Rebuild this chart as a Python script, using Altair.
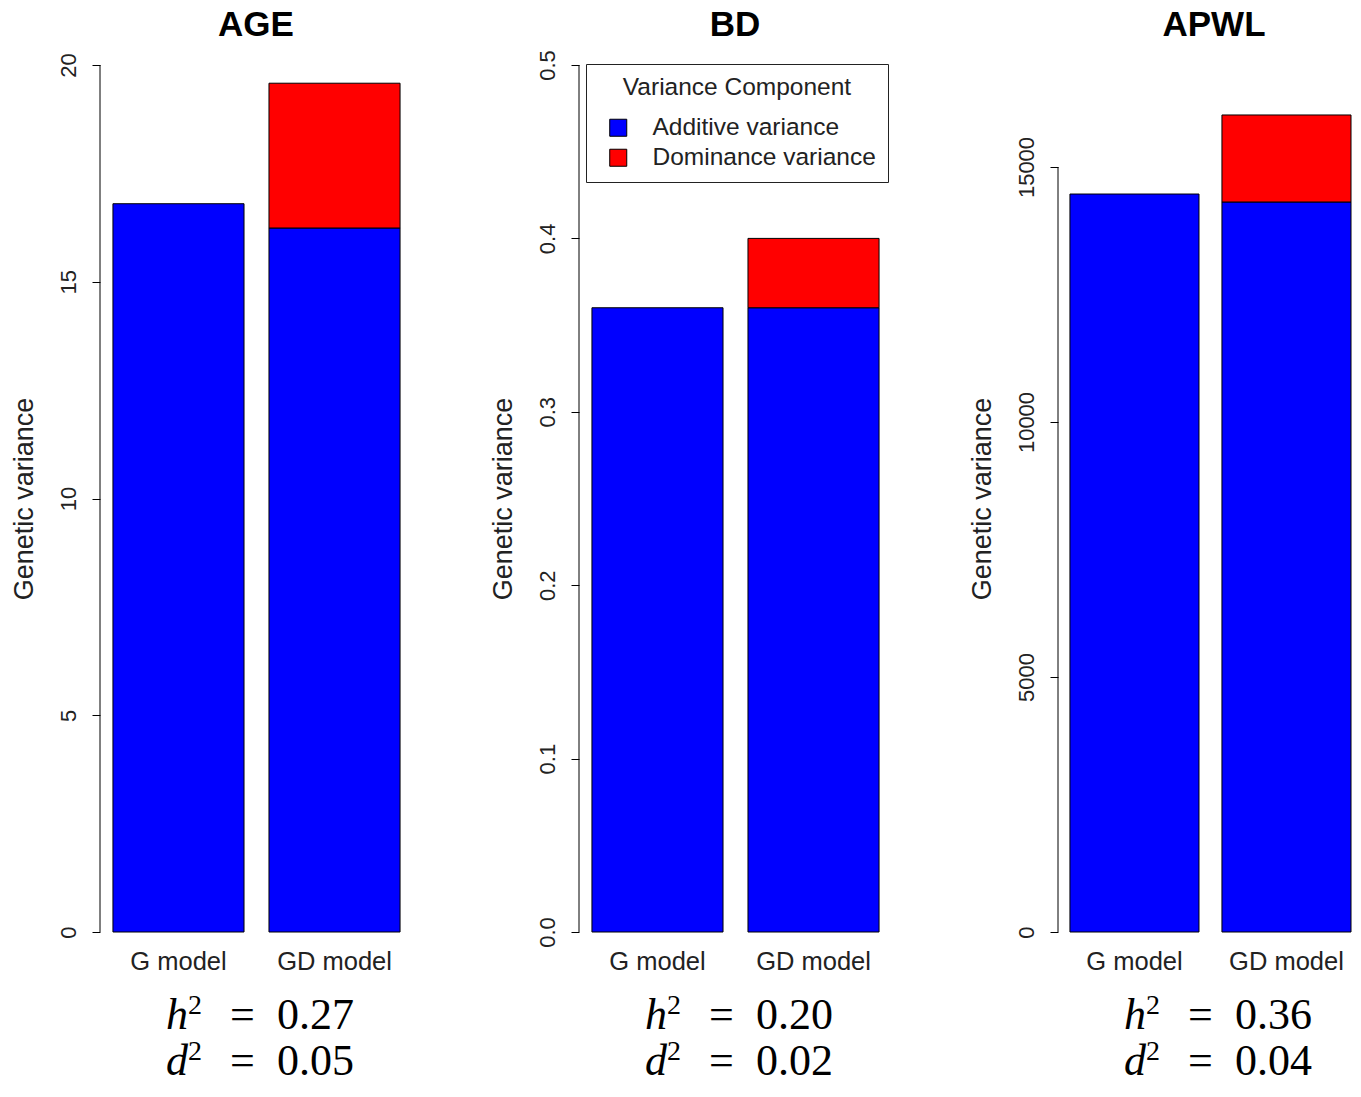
import altair as alt
import pandas as pd

traits = ["AGE", "BD", "APWL"]
models = ["G model", "GD model"]
components = ["Additive variance", "Dominance variance"]
comp_colors = ["#0000FF", "#FF0000"]

additive_vals = {"AGE": [16.8, 16.24], "BD": [0.360, 0.360], "APWL": [14470, 14314]}
dominance_vals = {"AGE": [None, 3.34], "BD": [None, 0.040], "APWL": [None, 1706]}

tick_vals = {
    "AGE": [0, 5, 10, 15, 20],
    "BD": [0.0, 0.1, 0.2, 0.3, 0.4, 0.5],
    "APWL": [0, 5000, 10000, 15000],
}
tick_fmt = {"AGE": "d", "BD": ".1f", "APWL": "d"}
y_max = {"AGE": 20, "BD": 0.5, "APWL": 17000}

h2_vals = ["0.27", "0.20", "0.36"]
d2_vals = ["0.05", "0.02", "0.04"]

SANS = "Liberation Sans"
SERIF = "Liberation Serif"
TXT = "#222222"
H = 867


def panel(i, trait):
    rows = []
    for j, m in enumerate(models):
        rows.append({"model": m, "component": components[0], "value": additive_vals[trait][j], "ord": 0})
        if dominance_vals[trait][j] is not None:
            rows.append({"model": m, "component": components[1], "value": dominance_vals[trait][j], "ord": 1})
    df = pd.DataFrame(rows)

    last = i == 2
    width = 293 if last else 313
    if last:
        xs = alt.Scale(domain=models, paddingInner=0.151, paddingOuter=0.0393, align=1)
    else:
        xs = alt.Scale(domain=models, paddingInner=0.16, paddingOuter=0.083)
    ys = alt.Scale(domain=[0, y_max[trait]], nice=False, zero=True)

    if i == 1:
        legend = alt.Legend(
            orient="none", legendX=7, legendY=-1,
            title="Variance Component", titleFont=SANS, titleFontSize=24.5,
            titleFontWeight="normal", titleColor=TXT, titleAnchor="middle",
            titlePadding=15, titleLimit=0,
            labelFont=SANS, labelFontSize=24.5, labelColor=TXT, labelOffset=22,
            labelLimit=0,
            symbolType="square", symbolSize=290, symbolStrokeColor="black",
            symbolStrokeWidth=1, symbolOpacity=1, symbolOffset=8, rowPadding=5,
            padding=12, strokeColor="#222222", fillColor="white",
        )
    else:
        legend = None

    bars = alt.Chart(df).mark_bar(stroke="black", strokeWidth=1, opacity=1).encode(
        x=alt.X("model:N", sort=models, scale=xs,
                axis=alt.Axis(title=None, labelAngle=0, domain=False, ticks=False,
                              labelFont=SANS, labelFontSize=25.5, labelColor=TXT,
                              labelPadding=17)),
        y=alt.Y("value:Q", stack="zero", scale=ys,
                axis=alt.Axis(title="Genetic variance", values=tick_vals[trait],
                              format=tick_fmt[trait], labelAngle=-90,
                              labelAlign="center", labelBaseline="alphabetic",
                              domain=False, grid=False, tickSize=8, tickColor="black",
                              labelFont=SANS, labelFontSize=22, labelColor=TXT,
                              labelPadding=17, titleFont=SANS, titleFontSize=27,
                              titleFontWeight="normal", titleColor=TXT,
                              titlePadding=19)),
        color=alt.Color("component:N", scale=alt.Scale(domain=components, range=comp_colors),
                        legend=legend),
        order=alt.Order("ord:Q", sort="ascending"),
    )

    axis_df = pd.DataFrame({"lo": [min(tick_vals[trait])], "hi": [max(tick_vals[trait])]})
    axis_line = alt.Chart(axis_df).mark_rule(color="black", strokeWidth=1).encode(
        x=alt.value(0), y=alt.Y("lo:Q", scale=ys), y2="hi:Q"
    )

    tdf = pd.DataFrame({"title": [trait], "h": ["h"], "d": ["d"], "two": ["2"], "eq": ["="],
                        "hv": [h2_vals[i]], "dv": [d2_vals[i]]})
    base = alt.Chart(tdf)
    title = base.mark_text(font=SANS, fontSize=35, fontWeight="bold", color="black",
                           align="center", baseline="top").encode(
        x=alt.value(156), y=alt.value(-57), text="title:N")
    yb1, yb2 = 973, 1019
    texts = [title]
    for letter, val, yb in (("h", "hv", yb1), ("d", "dv", yb2)):
        texts.append(base.mark_text(font=SERIF, fontStyle="italic", fontSize=44, align="left",
                                    baseline="bottom", color="black").encode(
            x=alt.value(66), y=alt.value(yb), text=f"{letter}:N"))
        texts.append(base.mark_text(font=SERIF, fontSize=28, align="left",
                                    baseline="bottom", color="black").encode(
            x=alt.value(88), y=alt.value(yb - 18), text="two:N"))
        texts.append(base.mark_text(font=SERIF, fontSize=44, align="left",
                                    baseline="bottom", color="black").encode(
            x=alt.value(130), y=alt.value(yb), text="eq:N"))
        texts.append(base.mark_text(font=SERIF, fontSize=44, align="left",
                                    baseline="bottom", color="black").encode(
            x=alt.value(177), y=alt.value(yb), text=f"{val}:N"))

    return alt.layer(bars, axis_line, *texts).properties(width=width, height=H)


chart = alt.hconcat(*[panel(i, t) for i, t in enumerate(traits)], spacing=76).resolve_scale(
    color="independent", y="independent", x="independent"
).properties(padding={"left": 2, "top": 0, "right": 0, "bottom": 0}).configure(
    background="white").configure_view(stroke=None)

chart.save("out.html", embed_options={"renderer": "svg", "actions": False})
